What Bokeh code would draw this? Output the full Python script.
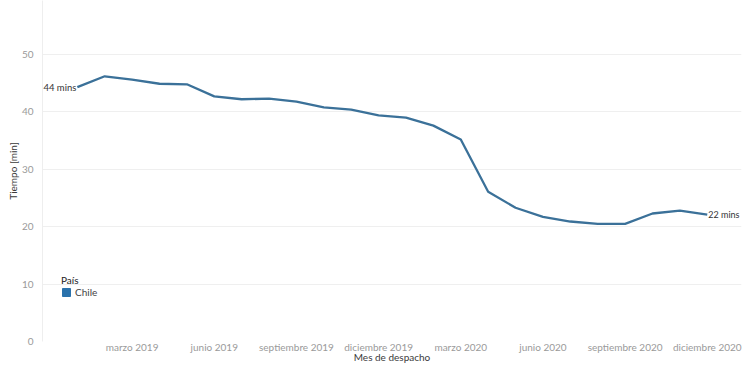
from bokeh.plotting import figure
from bokeh.models import Range1d, FixedTicker, ColumnDataSource, Legend, LegendItem, LabelSet
from bokeh.core.properties import value
from bokeh.embed import file_html
from bokeh.resources import INLINE

meses = ["enero 2019", "febrero 2019", "marzo 2019", "abril 2019", "mayo 2019", "junio 2019",
         "julio 2019", "agosto 2019", "septiembre 2019", "octubre 2019", "noviembre 2019", "diciembre 2019",
         "enero 2020", "febrero 2020", "marzo 2020", "abril 2020", "mayo 2020", "junio 2020",
         "julio 2020", "agosto 2020", "septiembre 2020", "octubre 2020", "noviembre 2020", "diciembre 2020"]
tiempo_chile = [44.3, 46.2, 45.6, 44.9, 44.8, 42.7, 42.2, 42.3, 41.8, 40.8, 40.4, 39.4,
                39.0, 37.6, 35.2, 26.1, 23.3, 21.7, 20.9, 20.5, 20.5, 22.3, 22.8, 22.1]
tick_idx = [2, 5, 8, 11, 14, 17, 20, 23]
y_ticks = [0, 10, 20, 30, 40, 50]
pais = "Chile"
x_title = "Mes de despacho"
y_title = "Tiempo [min]"

FONT = "Lato"
LINE_COLOR = "#3b7199"
SWATCH_COLOR = "#2a72ac"

x = list(range(len(meses)))
src = ColumnDataSource(dict(x=x, y=tiempo_chile, mes=meses))

p = figure(width=742, height=367, output_backend="svg", toolbar_location=None,
           x_range=Range1d(-1.272, 24.25), y_range=Range1d(0, 59.4),
           min_border_left=42, min_border_right=1, min_border_top=0, min_border_bottom=26)
p.outline_line_color = None
p.background_fill_color = "white"
p.border_fill_color = "white"

p.line("x", "y", source=src, line_color=LINE_COLOR, line_width=2.3, line_join="round")

# end labels
first = ColumnDataSource(dict(x=[x[0]], y=[tiempo_chile[0]], t=[f"{round(tiempo_chile[0])} mins"]))
last = ColumnDataSource(dict(x=[x[-1]], y=[tiempo_chile[-1]], t=[f"{round(tiempo_chile[-1])} mins"]))
p.add_layout(LabelSet(x="x", y="y", text="t", source=first, text_align="right",
                      text_baseline="middle", x_offset=-1, text_font=value(FONT),
                      text_font_size=value("9.5px"), text_color="#333333"))
p.add_layout(LabelSet(x="x", y="y", text="t", source=last, text_align="left",
                      text_baseline="middle", x_offset=1, text_font=value(FONT),
                      text_font_size=value("9px"), text_color="#333333"))

# axes
p.xaxis.ticker = FixedTicker(ticks=tick_idx)
p.xaxis.major_label_overrides = {i: meses[i] for i in tick_idx}
p.xaxis.axis_label = x_title
p.yaxis.ticker = FixedTicker(ticks=y_ticks)
p.yaxis.axis_label = y_title

for ax in (p.xaxis[0], p.yaxis[0]):
    ax.major_tick_line_color = None
    ax.minor_tick_line_color = None
    ax.major_label_text_font = FONT
    ax.major_label_text_font_size = "10px"
    ax.major_label_text_color = "#9a9a9a"
    ax.axis_label_text_font = FONT
    ax.axis_label_text_font_size = "10px"
    ax.axis_label_text_font_style = "normal"
    ax.axis_label_text_color = "#3a3a3a"

p.xaxis.axis_line_color = None
p.xaxis.major_label_standoff = -7
p.xaxis.axis_label_standoff = -5
p.yaxis.axis_line_color = "#eeeeee"
p.yaxis.major_label_standoff = 3
p.yaxis.axis_label_standoff = 0

p.xgrid.grid_line_color = None
p.ygrid.grid_line_color = "#efefef"
p.ygrid.grid_line_width = 1

# legend (proxy renderer, nothing visible in the plot)
nan = float("nan")
sw = p.quad(left=[nan], right=[nan], bottom=[nan], top=[nan],
            fill_color=SWATCH_COLOR, line_color=SWATCH_COLOR)
legend = Legend(items=[LegendItem(label=pais, renderers=[sw])], location=(19, 43),
                title="País", title_text_font=FONT, title_text_font_size="10px",
                title_text_color="#222222", title_text_font_style="normal", title_standoff=0,
                label_text_font=FONT, label_text_font_size="10px", label_text_color="#444444",
                glyph_width=10, glyph_height=10, label_standoff=4, padding=2, margin=0,
                spacing=0, label_height=12,
                border_line_color=None, background_fill_alpha=0)
p.add_layout(legend)

open("out.html", "w").write(file_html(p, INLINE))
